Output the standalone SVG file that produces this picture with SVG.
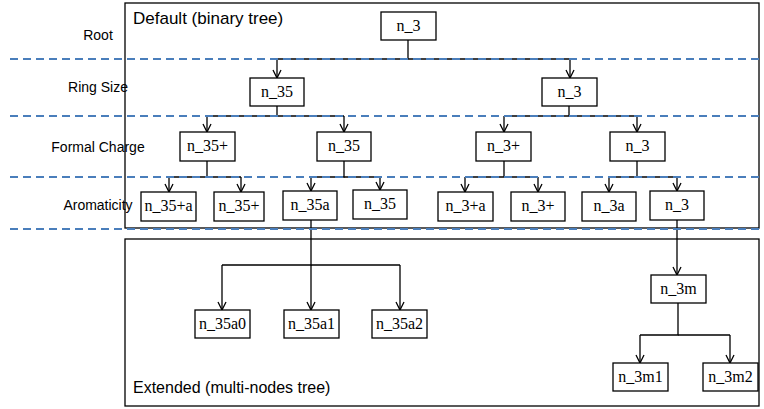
<svg xmlns="http://www.w3.org/2000/svg" width="764" height="409" viewBox="0 0 764 409">
<defs><marker id="a" viewBox="0 0 10 10" refX="9" refY="5" markerWidth="10" markerHeight="10" markerUnits="userSpaceOnUse" orient="auto"><path d="M1,1 L9,5 L1,9" fill="none" stroke="#000" stroke-width="1.3"/></marker></defs>
<style>
.n rect{fill:#fff;stroke:#000;stroke-width:1.3}
.n text{font-family:'Liberation Serif','Times New Roman','DejaVu Serif',serif;font-size:16px;text-anchor:middle}
.c path{fill:none;stroke:#000;stroke-width:1.3}
.c .ar{marker-end:url(#a)}
.d{stroke:#4a7ebb;stroke-width:2;stroke-dasharray:8,5}
</style>
<rect width="764" height="409" fill="#fff"/>
<rect x="125" y="3" width="634" height="225" fill="none" stroke="#000" stroke-width="1.3"/>
<rect x="125" y="239" width="634" height="167" fill="none" stroke="#000" stroke-width="1.3"/>
<g font-family="Liberation Sans, Arial, sans-serif" font-size="14" text-anchor="middle">
<text x="98" y="40">Root</text><text x="98" y="92">Ring Size</text><text x="98" y="152">Formal Charge</text><text x="98" y="210">Aromaticity</text>
</g>
<g font-family="Liberation Sans, Arial, sans-serif">
<text x="133" y="24" font-size="17">Default (binary tree)</text>
<text x="133" y="393" font-size="16">Extended  (multi-nodes tree)</text>
</g>
<g id="connectors" class="c">
<path d="M408,40V59"/><path d="M277,59H570"/><path class="ar" d="M277,59V78"/><path class="ar" d="M570,59V78"/>
<path d="M277,106V116H207"/><path d="M277,116H344"/><path class="ar" d="M207,116V132"/><path class="ar" d="M344,116V132"/>
<path d="M569,106V116H504"/><path d="M569,116H637"/><path class="ar" d="M504,116V132"/><path class="ar" d="M637,116V132"/>
<path d="M207,161V177H169"/><path d="M207,177H241"/><path class="ar" d="M169,177V192"/><path class="ar" d="M241,177V192"/>
<path d="M344,161V177H311"/><path d="M344,177H380"/><path class="ar" d="M311,177V191"/><path class="ar" d="M380,177V190"/>
<path d="M504,161V177H465"/><path d="M504,177H538"/><path class="ar" d="M465,177V192"/><path class="ar" d="M538,177V192"/>
<path d="M637,161V177H609"/><path d="M637,177H677"/><path class="ar" d="M609,177V192"/><path class="ar" d="M677,177V191"/>
<path d="M311,219V265H222"/><path d="M311,265H400"/><path class="ar" d="M222,265V310"/><path class="ar" d="M311,265V310"/><path class="ar" d="M400,265V310"/>
<path class="ar" d="M677,220V275"/>
<path d="M678,303V335H640"/><path d="M678,335H730"/><path class="ar" d="M640,335V363"/><path class="ar" d="M730,335V363"/>
</g>
<g class="d"><path d="M10,59H764M10,116H764M10,177H764M10,229H764"/></g>
<g class="n">
<g id="n1"><rect x="381" y="12" width="55" height="28"/><text x="408.5" y="31">n_3</text></g>
<g id="n2"><rect x="250" y="78" width="54" height="28"/><text x="277" y="97">n_35</text></g>
<g id="n3"><rect x="542" y="78" width="55" height="28"/><text x="569.5" y="97">n_3</text></g>
<g id="n4"><rect x="180" y="132" width="55" height="29"/><text x="207.5" y="151">n_35+</text></g>
<g id="n5"><rect x="317" y="132" width="54" height="29"/><text x="344" y="151">n_35</text></g>
<g id="n6"><rect x="476" y="132" width="55" height="29"/><text x="503.5" y="151">n_3+</text></g>
<g id="n7"><rect x="610" y="132" width="55" height="29"/><text x="637.5" y="151">n_3</text></g>
<g id="n8"><rect x="141" y="192" width="55" height="29"/><text x="168.5" y="211">n_35+a</text></g>
<g id="n9"><rect x="214" y="192" width="50" height="29"/><text x="239" y="211">n_35+</text></g>
<g id="n10"><rect x="283" y="191" width="54" height="29"/><text x="310" y="210">n_35a</text></g>
<g id="n11"><rect x="353" y="190" width="54" height="29"/><text x="380" y="209">n_35</text></g>
<g id="n12"><rect x="438" y="192" width="55" height="29"/><text x="465.5" y="211">n_3+a</text></g>
<g id="n13"><rect x="511" y="192" width="54" height="29"/><text x="538" y="211">n_3+</text></g>
<g id="n14"><rect x="582" y="192" width="54" height="29"/><text x="609" y="211">n_3a</text></g>
<g id="n15"><rect x="650" y="191" width="54" height="29"/><text x="677" y="210">n_3</text></g>
<g id="n16"><rect x="195" y="310" width="55" height="28"/><text x="222.5" y="329">n_35a0</text></g>
<g id="n17"><rect x="284" y="310" width="55" height="28"/><text x="311.5" y="329">n_35a1</text></g>
<g id="n18"><rect x="372" y="310" width="55" height="28"/><text x="399.5" y="329">n_35a2</text></g>
<g id="n19"><rect x="651" y="275" width="55" height="28"/><text x="678.5" y="294">n_3m</text></g>
<g id="n20"><rect x="613" y="363" width="55" height="28"/><text x="640.5" y="382">n_3m1</text></g>
<g id="n21"><rect x="703" y="363" width="55" height="28"/><text x="730.5" y="382">n_3m2</text></g>
</g>
</svg>
